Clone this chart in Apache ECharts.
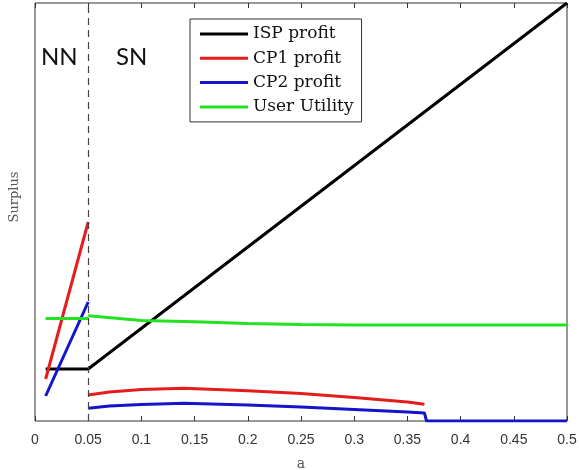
<!DOCTYPE html>
<html>
<head>
<meta charset="utf-8">
<script src="https://cdn.jsdelivr.net/npm/echarts@6/dist/echarts.min.js"></script>
<style>html,body{margin:0;padding:0;background:#fff}#c{width:579px;height:470px}</style>
</head>
<body>
<div id="c"></div>
<script>
// x ticks
const xTicks = [0, 0.05, 0.1, 0.15, 0.2, 0.25, 0.3, 0.35, 0.4, 0.45, 0.5];
// ISP profit (continuous across NN/SN)
const ispX = [0.01, 0.05, 0.5];
const ispY = [52, 52, 418];
// NN regime (a < 0.05)
const nnX = [0.01, 0.05];
const cp1NN = [42, 199];
const cp2NN = [25, 119];
const userNN = [102.5, 102.5];
// SN regime
const cp1SNx = [0.05, 0.07, 0.1, 0.14, 0.2, 0.25, 0.3, 0.35, 0.366];
const cp1SN = [26, 29, 31.5, 32.7, 30.3, 27.5, 23.5, 19, 16.7];
const cp2SNx = [0.05, 0.07, 0.1, 0.14, 0.2, 0.25, 0.3, 0.35, 0.366, 0.368, 0.5];
const cp2SN = [12.7, 15, 16.5, 17.7, 16, 14, 11.5, 9, 8, 0, 0];
const userSNx = [0.05, 0.1, 0.15, 0.2, 0.25, 0.3, 0.5];
const userSN = [105.3, 100.5, 99.3, 97.5, 96.5, 96, 96];
const boundary = 0.05;

const C = {isp:'#000000', cp1:'#e51c1c', cp2:'#1414cc', user:'#22e222'};
const zip = (xs, ys) => xs.map((x, i) => [x, ys[i]]);
const line = (name, color, data, extra) => Object.assign({
  name, type:'line', data, symbol:'none', color,
  lineStyle:{color, width:3}, animation:false
}, extra || {});

const chart = echarts.init(document.getElementById('c'));
chart.setOption({
  animation:false,
  grid:{left:35, right:12, top:3, bottom:49, show:true, borderColor:'#333', borderWidth:1,
    outerBoundsMode:'none', containLabel:false},
  xAxis:[{
    type:'value', min:0, max:0.5, interval:0.05,
    axisLine:{show:false},
    axisTick:{show:true, inside:true, length:5, lineStyle:{color:'#333'}},
    axisLabel:{fontFamily:'Liberation Sans', fontSize:14, color:'#333', margin:12,
      customValues: xTicks},
    splitLine:{show:false},
    name:'a', nameLocation:'middle', nameGap:36,
    nameTextStyle:{fontFamily:'DejaVu Serif', fontSize:14, color:'#555'}
  },{
    type:'value', min:0, max:0.5, interval:0.05, position:'top',
    axisLine:{show:false},
    axisTick:{show:true, inside:true, length:5, lineStyle:{color:'#333'}},
    axisLabel:{show:false}, splitLine:{show:false}
  }],
  yAxis:{type:'value', min:0, max:418, axisLine:{show:false}, axisTick:{show:false},
    axisLabel:{show:false}, splitLine:{show:false}},
  legend:{
    orient:'vertical', left:190, top:19,
    data:['ISP profit','CP1 profit','CP2 profit','User Utility'],
    icon:'rect', itemWidth:48, itemHeight:3, itemGap:4.3,
    padding:[5,8,5,10],
    borderColor:'#333', borderWidth:1, backgroundColor:'#fff',
    textStyle:{fontFamily:'DejaVu Serif', fontSize:17, color:'#111', lineHeight:20}
  },
  graphic:[
    {type:'text', left:41, top:45, style:{text:'NN', font:'24px Lato', fill:'#111'}},
    {type:'text', left:116, top:45, style:{text:'SN', font:'24px Lato', fill:'#111'}},
    {type:'text', x:15, y:197, rotation:Math.PI/2,
      style:{text:'Surplus', font:'13px "DejaVu Serif"', fill:'#555', align:'center', verticalAlign:'middle'}}
  ],
  series:[
    line('ISP profit', C.isp, zip(ispX, ispY), {
      markLine:{silent:true, symbol:'none', label:{show:false},
        lineStyle:{color:'#444', type:[7,5], width:1.2},
        data:[{xAxis:boundary}]}
    }),
    line('CP1 profit', C.cp1, zip(nnX, cp1NN)),
    line('CP1 SN', C.cp1, zip(cp1SNx, cp1SN)),
    line('CP2 profit', C.cp2, zip(nnX, cp2NN)),
    line('CP2 SN', C.cp2, zip(cp2SNx, cp2SN)),
    line('User Utility', C.user, zip(nnX, userNN)),
    line('User SN', C.user, zip(userSNx, userSN))
  ]
});
</script>
</body>
</html>
